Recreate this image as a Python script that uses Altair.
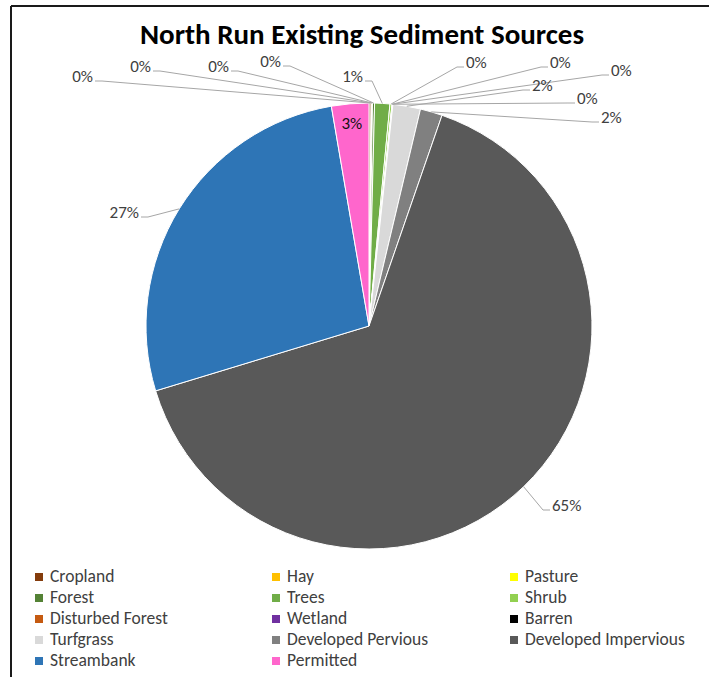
import math
import altair as alt
import pandas as pd

# ---------------- data ----------------
categories = ["Cropland", "Hay", "Pasture", "Forest", "Trees", "Shrub",
              "Disturbed Forest", "Wetland", "Barren", "Turfgrass",
              "Developed Pervious", "Developed Impervious", "Streambank", "Permitted"]
values = [0.15, 0.05, 0.05, 0.15, 1.1, 0.15, 0.02, 0.02, 0.02, 2.0, 1.6, 65.0, 27.0, 2.7]
colors = ["#843C0C", "#FFC000", "#FFFF00", "#548235", "#70AD47", "#92D050",
          "#C55A11", "#7030A0", "#000000", "#D9D9D9", "#808080", "#595959",
          "#2E75B6", "#FF66CC"]
title_text = "North Run Existing Sediment Sources"

# ---------------- layout (pixels) ----------------
W, H = 709, 677
CX, CY, R = 369, 326, 223
FONT = "Carlito, Lato, sans-serif"
# label edge x, label centre y, alignment (inside -> inside slice)
label_layout = {
    "Cropland": (93, 77, "right"),
    "Hay": (151, 67, "right"),
    "Pasture": (229, 67, "right"),
    "Forest": (281, 62, "right"),
    "Trees": (363, 77, "right"),
    "Shrub": (466, 63, "left"),
    "Disturbed Forest": (550, 63, "left"),
    "Wetland": (611, 71, "left"),
    "Barren": (577, 99, "left"),
    "Turfgrass": (532, 86, "left"),
    "Developed Pervious": (601, 118, "left"),
    "Developed Impervious": (552, 506, "left"),
    "Streambank": (139, 213, "right"),
    "Permitted": (None, None, "inside"),
}
legend_col_x = [35, 272, 510]
legend_row_y0, legend_row_dy = 577, 21

# ---------------- derived table ----------------
total = sum(values)
rows, segs = [], []
cum = 0.0
for i, (c, v) in enumerate(zip(categories, values)):
    mid = (cum + v / 2) / total * 2 * math.pi
    cum += v
    pct = f"{round(v / total * 100):.0f}%"
    px, py = CX + R * math.sin(mid), CY - R * math.cos(mid)
    lx, ly, al = label_layout[c]
    if al == "inside":
        tx, ty = CX + 203 * math.sin(mid), CY - 203 * math.cos(mid)
    else:
        tx, ty = lx, ly
        sgn = 1 if al == "right" else -1
        ax = lx + sgn * 2
        ex = lx + sgn * 9
        yy = ly + 4
        segs.append(dict(x=px, y=py, x2=ex, y2=yy))
        segs.append(dict(x=ex, y=yy, x2=ax, y2=yy))
    rows.append(dict(idx=i, cat=c, val=v, pct=pct, tx=tx, ty=ty, align=al,
                     lcol=i % 3, lrow=i // 3))
df = pd.DataFrame(rows)
df_seg = pd.DataFrame(segs)
df["sx"] = [legend_col_x[c] + 4 for c in df["lcol"]]
df["ltx"] = [legend_col_x[c] + 15 for c in df["lcol"]]
df["ly"] = [legend_row_y0 + r * legend_row_dy for r in df["lrow"]]

color_scale = alt.Scale(domain=categories, range=colors)
X = lambda f: alt.X(f, type="quantitative", scale=None, axis=None)
Y = lambda f: alt.Y(f, type="quantitative", scale=None, axis=None)

base = alt.Chart(df)

pie = base.mark_arc(outerRadius=R, stroke="white", strokeWidth=1).encode(
    theta=alt.Theta("val:Q", stack=True),
    color=alt.Color("cat:N", scale=color_scale, legend=None),
    order=alt.Order("idx:Q"),
    x=alt.value(CX), y=alt.value(CY),
)

leaders = alt.Chart(df_seg).mark_rule(color="#A6A6A6", strokeWidth=1).encode(
    x=X("x"), y=Y("y"), x2="x2", y2="y2")

def lab(al, color="#404040"):
    return base.transform_filter(alt.datum.align == al).mark_text(
        align=("center" if al == "inside" else al), baseline="middle",
        font=FONT, fontSize=17, color=color).encode(
        x=X("tx"), y=Y("ty"), text="pct:N")

lab_r = lab("right")
lab_l = lab("left")
lab_in = lab("inside", "#111111")

leg_sq = base.mark_square(size=64, opacity=1).encode(
    x=X("sx"), y=Y("ly"),
    color=alt.Color("cat:N", scale=color_scale, legend=None))
leg_tx = base.mark_text(align="left", baseline="middle", font=FONT,
                        fontSize=17.5, color="#404040").encode(
    x=X("ltx"), y=Y("ly"), text="cat:N")

title = alt.Chart(pd.DataFrame({"t": [title_text]})).mark_text(
    align="center", baseline="alphabetic", font=FONT, fontSize=29,
    fontWeight="bold", color="#000000").encode(
    x=alt.value(362), y=alt.value(44), text="t:N")

frame = alt.Chart(pd.DataFrame({"x": [11, 11], "y": [6, 6], "x2": [11, W], "y2": [H, 6]})).mark_rule(
    color="#1a1a1a", strokeWidth=2).encode(x=X("x"), y=Y("y"), x2="x2", y2="y2")

chart = alt.layer(pie, leaders, lab_r, lab_l, lab_in, leg_sq, leg_tx, title, frame).properties(
    width=W, height=H, padding=0, autosize=alt.AutoSizeParams(type="none"),
    background="white",
).configure_view(stroke=None)

chart.save("out.html", embed_options={"renderer": "svg", "actions": False})
